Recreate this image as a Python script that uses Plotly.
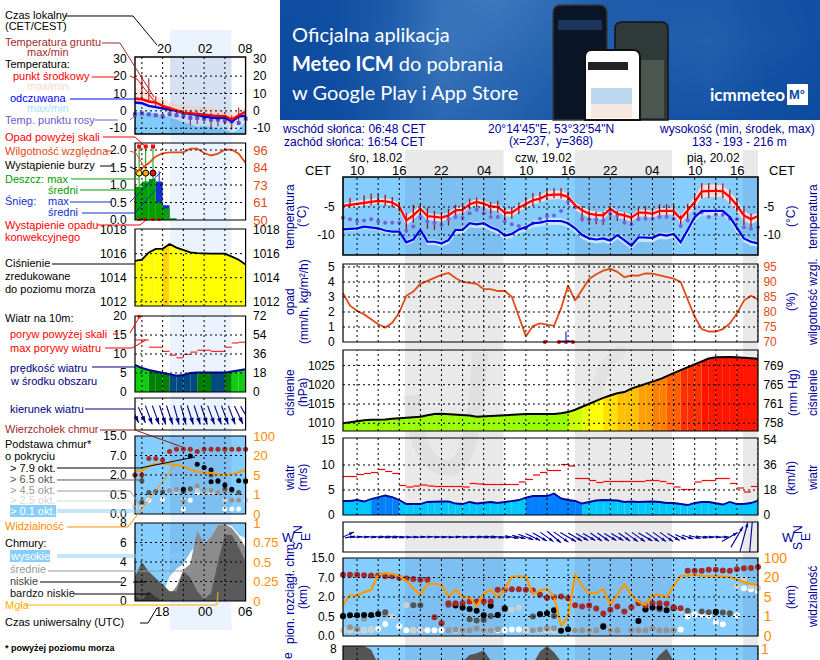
import plotly.graph_objects as go

W, H = 820, 660
# ---------- right-hand meteogram data (hourly, 08 CET 18.02 -> 19 CET 20.02) ----------
hours_r = list(range(-2, 58))
t_mid = [-4.8,-4.6,-4.4,-4.2,-4.0,-3.9,-4.0,-4.2,-4.9,-7.4,-6.5,-5.3,-6.6,-6.7,-6.9,-6.5,-5.6,-5.5,-4.5,-4.1,
         -4.4,-4.9,-5.0,-6.0,-6.0,-5.1,-4.4,-3.8,-3.5,-2.9,-2.8,-2.8,-3.2,-4.7,-5.6,-6.2,-6.4,-6.5,-5.3,-6.2,
         -6.5,-6.9,-6.0,-6.0,-6.2,-5.7,-5.7,-5.7,-7.1,-5.6,-4.1,-2.2,-2.1,-2.1,-2.2,-3.2,-4.7,-6.5,-7.2,-6.6]
t_feel = [-9.0,-8.9,-8.8,-8.5,-8.7,-8.8,-9.2,-9.4,-9.4,-11.3,-10.8,-9.1,-11.2,-11.2,-11.5,-10.9,-9.1,-9.1,-7.9,-8.1,
          -7.9,-8.6,-9.1,-10.1,-9.8,-9.0,-8.6,-7.9,-7.8,-7.5,-7.5,-7.5,-7.9,-8.8,-10.0,-10.6,-10.8,-10.6,-11.0,-10.0,
          -10.9,-11.9,-10.4,-10.4,-10.5,-9.9,-10.1,-9.8,-11.3,-9.1,-6.8,-5.7,-5.7,-5.8,-5.7,-6.8,-8.8,-10.6,-11.2,-11.5]
t_dew = [-6.9,-7.2,-7.5,-7.4,-7.2,-7.6,-7.8,-7.8,-7.8,-9.2,-8.5,-6.8,-7.6,-7.8,-8.2,-7.1,-6.8,-6.9,-6.1,-5.5,
         -6.1,-6.8,-6.8,-7.6,-8.1,-8.4,-8.8,-7.9,-7.1,-6.6,-6.5,-5.7,-4.0,-5.1,-7.2,-7.2,-7.2,-7.4,-6.1,-6.5,
         -7.8,-8.1,-7.2,-7.1,-7.1,-6.8,-6.8,-7.1,-8.4,-7.4,-6.2,-6.0,-6.8,-6.4,-6.4,-7.1,-7.2,-8.6,-8.9,-8.6]
red_up = [.4,.5,.5,.5,.5,.5,.5,.5,.5,.9,.8,.6,.5,.5,.5,.5,.5,.5,.5,.5,.5,.5,.5,.5,.5,.5,.5,.6,.6,.7,
          .7,.7,.6,.5,.6,.6,.6,.6,.5,.5,.5,.5,.5,.5,.5,.5,.5,.5,.6,.7,.9,1.0,1.1,1.1,1.0,1.0,.9,.8,.7,.6]
red_dn = [.5,.5,.5,.5,.5,.5,.5,.5,.6,.8,.8,.7,.7,.7,.7,.6,.6,.6,.6,.6,.6,.7,.7,.7,.7,.7,.7,.7,.7,.8,
          .8,.8,.8,.8,.7,.7,.7,.7,.7,.7,.7,.7,.7,.7,.7,.7,.7,.7,.8,.9,1.0,1.1,1.1,1.1,1.1,1.1,1.1,1.0,.9,.8]
blu_up = [.3,.3,.3,.3,.3,.3,.3,.3,.3,.4,.4,.4,.4,.4,.4,.4,.4,.4,.4,.4,.4,.4,.4,.4,.4,.4,.4,.5,.5,.5,
          .5,.5,.5,.4,.4,.4,.4,.4,.4,.4,.4,.4,.4,.4,.4,.4,.4,.4,.4,.5,.5,.4,.4,.4,.4,.4,.4,.4,.4,.4]
blu_dn = [.4,.4,.4,.4,.4,.4,.4,.4,.4,.5,.5,.6,.6,.6,.6,.7,.7,.7,.7,.7,.7,.7,.7,.7,.7,.7,.7,.7,.7,.7,
          .7,.7,.7,.7,.7,.7,.7,.7,.7,.7,.7,.7,.8,.8,.8,.8,.7,.7,.7,.8,.8,.8,.8,.8,.8,.8,.8,.7,.7,.6]
ground_up = [0,1.2,0,1.3,1.4,1.2,1.2,1.0,.8,1.3,1.9,.9,1.5,1.0,1.0,1.2,1.0,1.2,1.0,.8,1.0,.8,1.1,.9,1.0,.9,1.2,1.3,1.2,1.2,
             1.2,1.2,1.0,.3,.8,.6,.6,.6,.5,.5,.5,.6,.9,1.2,.9,1.2,1.2,1.2,.6,1.2,1.4,1.5,1.4,1.5,1.4,1.3,1.2,1.3,1.0,.9]
ground_dn = [0,.5,0,.7,.7,.7,.8,.9,.9,2.2,1.3,1.2,2.3,2.4,1.8,1.8,1.4,1.0,.9,1.0,1.4,1.4,1.0,1.3,1.1,1.2,1.2,1.0,.7,.8,
             .6,.7,.7,.6,2.0,1.8,1.7,1.7,2.0,1.3,1.5,1.3,1.0,1.1,1.0,.9,1.1,.9,1.5,1.8,1.3,1.3,1.3,1.3,1.2,1.2,1.2,1.7,1.8,1.0]
humidity_r = [86.3,82.1,80.4,79.2,77.6,75.9,74.8,76.4,79.8,85.4,86.8,89.4,90.4,91.3,92.4,93.0,91.3,90.0,89.6,89.4,
              87.6,87.6,87.0,87.0,85.1,78.4,71.9,75.3,76.2,75.8,75.4,81.2,88.8,83.8,87.4,91.0,92.6,93.8,94.4,93.4,
              91.6,92.2,92.1,92.9,92.8,92.2,91.5,91.1,90.0,84.0,78.4,74.3,73.5,73.5,74.3,76.2,79.5,83.8,85.4,84.2]
conv_hours_r = [26.7, 28.7, 29.7, 30.7]
snow_spike_x = [29.7]
snow_spike_y = [0.7]
pressure_r = [1010.0,1010.3,1010.6,1010.8,1010.9,1010.9,1011.0,1011.2,1011.3,1011.4,1011.5,1011.7,1012.1,1012.4,1012.5,1012.4,1012.3,1012.2,1012.0,1011.7,
              1011.8,1012.0,1012.1,1012.2,1012.2,1012.3,1012.4,1012.4,1012.4,1012.4,1012.4,1012.6,1012.9,1013.5,1014.3,1015.1,1016.0,1016.6,1017.2,1017.8,
              1018.1,1019.0,1019.6,1020.1,1020.8,1021.4,1022.3,1023.0,1023.8,1024.6,1025.4,1026.2,1026.8,1027.1,1027.2,1027.2,1027.1,1027.0,1026.8,1026.7]
wind_r = [2.8,2.8,3.0,2.7,3.2,3.6,3.9,3.6,3.0,2.2,2.2,2.2,2.6,2.7,2.7,2.7,2.3,2.2,2.6,2.3,
          2.4,2.6,2.4,2.6,2.8,3.0,3.5,3.8,3.8,3.8,4.3,3.3,3.0,2.8,2.3,2.6,2.9,3.0,3.0,2.9,
          2.6,2.7,2.6,2.7,2.7,2.6,2.4,2.4,2.2,2.0,2.4,2.6,2.6,2.4,2.1,2.6,2.2,2.2,2.4,2.9]
wind_strong_r = [4,5,6,7,26,27,28,29,30,31,32,33]
gust_r = [7.7,7.7,8.1,8.3,8.5,9.1,8.7,8.3,5.9,5.6,5.8,6.0,5.8,5.7,5.7,5.7,5.7,5.6,6.3,6.2,
          6.1,6.1,6.1,6.1,6.1,6.6,7.1,8.0,8.5,8.9,8.9,10.1,9.8,7.3,7.3,6.9,6.5,6.7,6.7,6.7,
          6.7,6.7,6.7,6.9,6.9,6.7,6.3,5.6,5.1,5.1,6.6,6.9,6.9,7.3,7.3,6.3,5.4,4.6,5.7]
dir_r = [-25,-10,-5,0,5,8,10,10,10,5,0,-5,-3,5,5,5,0,8,5,8,10,10,8,5,10,15,20,25,30,35,
         40,35,30,30,30,30,35,35,30,30,35,35,35,30,35,35,35,30,25,20,15,10,8,5,0,-30,-60,-75,-85,-90]
dirlen_r = [24,10,10,10,10,10,10,10,10,10,10,10,10,10,10,10,10,10,10,10,10,10,12,12,14,14,16,16,16,16,
            18,18,18,16,14,14,14,14,14,14,14,16,16,16,16,16,16,14,12,12,12,12,10,10,12,18,24,30,32,34]
vis_r = [1.60,2.11,2.06,2.25,2.37,3.14,3.23,3.18,3.09,2.83,2.45,2.11,2.68,2.68,2.63,2.03,2.37,1.99,1.99,1.51,
         2.16,2.37,1.99,2.37,3.04,3.06,3.04,2.16,2.33,2.44,2.03,0.53,1.00,3.18,2.54,2.20,2.20,2.40,1.60,2.11,
         2.66,2.11,1.77,1.60,2.11,2.11,1.99,2.54,3.09,3.09,3.14,3.09,3.06,3.06,3.04,3.04,2.88,2.75,2.66,2.63]
top_k = [0,1,2,3,4,5,6,7,8,9,10,11,12,13,14,15,16,17,18,19,20,21,22,23,24,25,26,27,28,29,30,31,32,33,34,35,36,37,38,39,40,41,42,43,44,45,46,47,48,49,50,51,52,53,54,55,56,57,58,59]
top_p = [3.14,3.14,3.14,3.12,3.10,3.10,3.06,3.06,2.99,2.95,2.92,2.88,2.88,0.96,0.65,1.68,1.68,1.68,1.77,1.77,1.77,1.77,2.37,2.37,2.40,2.40,2.37,2.33,2.11,1.96,
         1.99,2.03,1.94,1.58,1.51,1.56,1.41,1.15,1.34,1.51,1.25,1.48,1.68,1.56,1.68,1.68,1.65,1.46,1.42,3.35,3.35,3.35,3.40,3.40,3.36,3.35,3.42,3.47,3.49,3.54]
black_k = [0,1,2,3,4,5,16,17,18,19,20,21,22,23,28,29,30,31,32,37,42,43,44,45,46,47,53]
black_p = [1.03,1.06,1.06,1.08,1.08,1.13,1.56,1.46,1.39,1.30,1.06,1.55,1.08,1.42,1.12,1.17,1.32,.27,.34,.48,.77,1.37,1.46,1.46,1.32,1.42,1.24]
dgray_k = [0,6,10,11,15,18,19,20,21,22,23,27,28,30,37,43,45,47,49,51,52,53,54,55]
dgray_p = [1.0,1.22,1.58,1.58,1.6,.86,.79,.82,1.03,1.08,1.37,1.0,1.13,1.03,.53,1.34,1.37,1.46,1.29,1.25,1.22,1.2,1.2,1.17]
gray_k = [1,2,3,6,15,16,17,18,19,20,21,22,27,28,29,30,33,34,35,36,37,38,39,41,42,43,44,45,46,47]
gray_p = [.45,.34,.89,1.1,.3,.32,.3,.3,.38,.3,.3,.35,.3,.33,.38,.4,.3,.3,.3,.3,.5,.3,.3,.3,.3,.3,.4,.3,.3,.3]
lgray_k = [0,1,2,3,4,7,9,10,11,24,25,26,27,28,29,30,48,56,57,58,59]
lgray_p = [.3,.3,.3,.3,.33,1.0,1.58,.3,.3,1.35,1.45,.3,.3,.3,.3,.3,1.3,2.55,2.9,2.55,2.45]
white_k = [0,1,2,3,4,5,6,8,9,10,11,12,13,14,16,17,20,21,22,23,24,25,26,27,28,29,30,33,35,38,48,49,50,51,52,53,54,56,57,58,59]
white_p = [.3,.3,.3,.3,.33,.37,.62,.5,.3,.3,.3,.3,.3,.3,.3,.3,.3,.3,.3,.3,.33,.33,.3,.3,.3,.3,.3,.3,.3,.3,.33,1.0,1.1,1.1,1.05,.7,.6,1.05,2.45,2.4,2.3]
cloud_r = [8,8,8,8,7.6,6,5,5,5,5,5,5,5,5,5,5,5,6.3,7,7.2,7.5,6.4,5,5,5,5,5,6,7.4,8,7.3,6.3,5,5,5,5,5,5,5,5,5,5,5,5,6,7,7.7,6.3,5,5,5,5,5,5,5,5,5,5,5,5]

# ---------- left-hand meteogram data (hourly, UTC hours relative to 18 UTC) ----------
hours_l = list(range(-4, 13))
t_mid_l = [7.1,6.7,5.4,4.8,2.9,1.5,0,-1,-1.3,-1.7,-2.3,-2.5,-3,-2.9,-5,-2.5,-0.5]
t_feel_l = [4.8,4.4,2.9,2.1,1.5,0.6,0,-1.3,-1.7,-2.3,-3.3,-3.7,-4.2,-3.8,-6.2,-3.3,-2.7]
t_hi_l = [13.5,12,10,9,7,5,4,3.5,3,3,2,2,0.5,0,-1,0.5,2]
t_lo_l = [-0.4,-0.8,-1,-1.3,-2.3,-3.7,-5.2,-6.2,-7.5,-9,-8.7,-9,-10,-10.6,-12.3,-10.4,-5.6]
t_dew_l = [-2,-1.5,-2,-2.5,-3,-2,-2.5,-3,-4,-4,-4.5,-5,-5,-5.5,-6,-7,-4.5]
ground_up_l = [0,14,13.4,3.5,3.4,1.0,1.0,1.5,1.6,1.5,1.5,1.4,1.7,0.6,2.5,4.5,0]
ground_dn_l = [0,0,0,2,2.5,3,3.5,3.5,7,6,4,8,6,5,6,5,0]
humidity_l = [80.7,84,87.4,91.8,93.8,94.5,94.5,94.5,96.9,96.9,94,92.4,93.6,96.2,96.2,93.6,87.4]
rain_h = [-3.5,-2.5,-1.5,-0.5,0.5,1.5]
rain_mean = [.95,1.1,1.17,.5,.33,.05]
snow_top = [0,0,0,1.1,.42,0]
rain_top_x = [-3.4,-2.45,-1.4]
rain_top_y = [2.1,2.1,2.1]
storm_y = [1.34,1.34,1.34]
storm_col = ['#ffee00','#ffa500','#ee1111']
snow_max_x = [-0.5]
snow_max_y = [1.39]
conv_x = [-3.4,-2.45,-1.4,-0.5]
pressure_l = [1015.4,1015.5,1016.1,1016.4,1016.4,1016.8,1016.5,1016.3,1016.1,1016.05,1016.0,1016.0,1016.0,1016.0,1015.75,1015.5,1015.1]
wind_l = [7.1,6.3,5.8,5.4,5,4.5,4.3,4.5,5,5.1,5.1,5.1,5.1,5.1,5.4,5.8,6]
gust_l = [13.7,13.7,11.8,11.8,10.7,9.7,9,9.9,10.5,11,11,10.7,10.7,11.8,12.9,13.1]
wind_col_l = ['#11cc11','#11cc11','#008000','#008000','#008000','#004a80','#004a80','#004a80','#004a80','#008000','#008000','#004a80','#004a80','#008000','#11cc11','#11cc11']
dir_l = [65,65,70,70,72,72,75,75,72,72,72,70,70,70,70,65,60]
dirlen_l = [17,17,20,20,20,20,20,20,20,20,20,20,20,20,20,20,20]
vis_l = [2.22,2.22,2.46,2.58,2.58,2.58,2.51,2.43,2.29,2.17,2.12,2.12,2.03,2.03,2.03,2.14,2.26]
top_p_l = [2,2,2.85,2.85,2.77,3.2,3.32,3.32,3.32,3.2,3.32,3.32,3.32,3.32,3.32,3.32,3.32]
black_xl = [4,5,6,7,7,8,9,10,11,3,12]
black_pl = [2.97,2.55,2.38,2.26,1.66,1.70,1.49,1.27,1.7,1.27,1.7]
dgray_xl = [-4,-3,-3,-2,-1,0,3,4,7,8,9,10,11,12]
dgray_pl = [2,1.7,.6,1.1,1.15,1.13,1.15,1.3,2.0,1.66,1.3,1.2,1.1,1.66]
gray_xl = [-3,1,2,3,4,5,6,7,8,9,10,11]
gray_pl = [.7,1.2,1.25,.65,1.25,1.45,1.2,1.2,1.1,1.15,.7,.7]
lgray_xl = [-4,-3,1,2,5,6,7,8,9,10,11,12]
lgray_pl = [.4,.35,1.25,1.15,1.2,1.1,1.15,1.1,.7,.7,.7,.7]
white_xl = [-3,-2,0,3,3,4,5,6,7,9,10,11]
white_pl = [.65,.7,.75,.25,.7,.7,1.1,1.15,1.1,.25,.25,.25]
c_high = [0,0,0,0,.7,2.5,3.3,3.8,5,5.9,5.9,6.6,7.8,7.9,7.7,6.8,6.4]
c_mid = [0,0,0,0,.5,.6,1.5,3.2,3.8,7.2,5.9,6.6,7.8,7.9,7.5,6.6,5.5]
c_low = [2.5,4,3,2.4,1.7,1,1,3,2.4,1,.2,.8,4,6.8,6.8,5.5,4]
c_vlow = [.5,0,1,.4,0,0,0,0,0,0,0,0,0,0,0,0,0]
fog_x = [8.1,9.1,10.1,11.2]
fog_y = [1.1,1.1,1.1,1.1]

# ---------- geometry ----------
XR = (343, 758); XL = (135, 245.6)
def px(x): return x / W
def py(y): return 1 - y / H
RIGHT_RNG = [-2, 57]; LEFT_RNG = [-4, 12]
PXH_R = (XR[1] - XR[0]) / 59; PXH_L = (XL[1] - XL[0]) / 16
FONT = "Liberation Sans"
NAVY = "#000099"; ORG = "#ff8c00"; HUMC = "#e34a14"
TL_R = 2; TL_L = 4

fig = go.Figure()
layout = dict(
    width=W, height=H, margin=dict(l=0, r=0, t=0, b=0, pad=0, autoexpand=False), paper_bgcolor="white", plot_bgcolor="rgba(0,0,0,0)",
    showlegend=False, font=dict(family=FONT, size=12, color="black"), barmode="overlay", hovermode=False,
    xaxis=dict(domain=[px(XR[0]), px(XR[1])], range=RIGHT_RNG, visible=False, fixedrange=True),
    xaxis2=dict(domain=[px(XL[0]), px(XL[1])], range=LEFT_RNG, visible=False, fixedrange=True),
    xaxis3=dict(domain=[px(280), px(820)], range=[280, 820], visible=False, fixedrange=True),
)
shapes, annos = [], []
axis_n = [0]
grid_dash = "2px,3px"
CUR_X = ["x"]

def add_y(top, bottom, rng, tickvals=None, ticktext=None, side="left", color="black", xname=None, overlay=None, ticklen=5, fs=12):
    axis_n[0] += 1
    n = axis_n[0]
    key = "yaxis" if n == 1 else f"yaxis{n}"
    xn = xname or CUR_X[0]
    d = dict(domain=[py(bottom), py(top)], range=rng, anchor=xn, side=side, showgrid=False, zeroline=False,
             fixedrange=True, showline=False, tickcolor="rgba(0,0,0,0)", ticklen=ticklen,
             tickfont=dict(family=FONT, size=fs, color=color), ticks="outside")
    if tickvals is not None:
        d["tickmode"] = "array"; d["tickvals"] = tickvals
        d["ticktext"] = ticktext if ticktext else [str(v) for v in tickvals]
    else:
        d["showticklabels"] = False; d["ticks"] = ""
    if overlay:
        d["overlaying"] = overlay
    layout[key] = d
    name = "y" if n == 1 else f"y{n}"
    if overlay:
        # an axis is only drawn when a trace sits on it
        xr = layout["xaxis" if xn == "x" else "xaxis2"]["range"]
        fig.add_trace(go.Scatter(x=[xr[0]], y=[rng[0]], xaxis=xn, yaxis=name, mode="markers",
                                 marker=dict(size=1, opacity=0), hoverinfo="skip"))
    return name

def rect(x0, y0, x1, y1, fill, layer="below", line=None, lw=0):
    shapes.append(dict(type="rect", xref="paper", yref="paper", x0=px(x0), x1=px(x1), y0=py(y0), y1=py(y1),
                       fillcolor=fill, layer=layer, line=dict(color=line or "rgba(0,0,0,0)", width=lw)))

def poly(pts, color, w=1):
    path = "M " + " L ".join(f"{px(a):.5f},{py(b):.5f}" for a, b in pts)
    shapes.append(dict(type="path", xref="paper", yref="paper", path=path, line=dict(color=color, width=w), layer="above"))

def rrect(x0, y0, x1, y1, r, fill, line=None, lw=0, layer="above"):
    pts = (f"M {px(x0+r):.5f},{py(y0):.5f} L {px(x1-r):.5f},{py(y0):.5f} Q {px(x1):.5f},{py(y0):.5f} {px(x1):.5f},{py(y0+r):.5f} "
           f"L {px(x1):.5f},{py(y1):.5f} L {px(x0):.5f},{py(y1):.5f} L {px(x0):.5f},{py(y0+r):.5f} Q {px(x0):.5f},{py(y0):.5f} {px(x0+r):.5f},{py(y0):.5f} Z")
    shapes.append(dict(type="path", xref="paper", yref="paper", path=pts, fillcolor=fill, layer=layer,
                       line=dict(color=line or "rgba(0,0,0,0)", width=lw)))

def txt(x, y, s, color="black", size=12, anchor="left", angle=0, bold=False, family=FONT, bg=None):
    a = dict(xref="paper", yref="paper", x=px(x), y=py(y), text=f"<b>{s}</b>" if bold else s, showarrow=False,
             xanchor=anchor, yanchor="middle", textangle=angle, font=dict(family=family, size=size, color=color), borderpad=0, borderwidth=0)
    if bg:
        a["bgcolor"] = bg
    annos.append(a)

def grid(side, top, bottom, yname, hvals=(), vvals=()):
    xname, (x0, x1) = ("x", XR) if side == "r" else ("x2", XL)
    for v in vvals:
        shapes.append(dict(type="line", xref=xname, yref="paper", x0=v, x1=v, y0=py(bottom), y1=py(top), layer="above",
                           line=dict(color="black", width=1, dash=grid_dash)))
    for v in hvals:
        shapes.append(dict(type="line", xref="paper", yref=yname, x0=px(x0), x1=px(x1), y0=v, y1=v, layer="above",
                           line=dict(color="black", width=1, dash=grid_dash)))

def frame(side, top, bottom, w=1.2):
    x0, x1 = XR if side == "r" else XL
    rect(x0, top, x1, bottom, "rgba(0,0,0,0)", layer="above", line="black", lw=w)

def line(x, y, xa, ya, color, w=2, **kw):
    fig.add_trace(go.Scatter(x=x, y=y, xaxis=xa, yaxis=ya, mode="lines", line=dict(color=color, width=w), hoverinfo="skip", **kw))

def between(x, lo, hi, xa, ya, color):
    fig.add_trace(go.Scatter(x=x, y=lo, xaxis=xa, yaxis=ya, mode="lines", line=dict(width=0), hoverinfo="skip"))
    fig.add_trace(go.Scatter(x=x, y=hi, xaxis=xa, yaxis=ya, mode="lines", line=dict(width=0), fill="tonexty", fillcolor=color, hoverinfo="skip"))

def dots(x, y, xa, ya, color, size=6, symbol="circle"):
    fig.add_trace(go.Scatter(x=x, y=y, xaxis=xa, yaxis=ya, mode="markers", marker=dict(color=color, size=size, symbol=symbol, line=dict(width=0)), hoverinfo="skip", cliponaxis=False))

def segments(x, v, xa, ya, color, w=1.2):
    xs, ys = [], []
    for xi, vi in zip(x, v):
        xs += [xi, xi + 1, None]; ys += [vi, vi, None]
    line(xs, ys, xa, ya, color, w)

def area_steps(x, v, colors, xa, ya):
    for i in range(len(x) - 1):
        fig.add_trace(go.Scatter(x=[x[i], x[i + 1]], y=[v[i], v[i + 1]], xaxis=xa, yaxis=ya, mode="lines", line=dict(width=0),
                                 fill="tozeroy", fillcolor=colors[i], hoverinfo="skip"))

PCOL = [(1009.5, "#66ff00"), (1012.7, "#99ff00"), (1013.5, "#ccff00"), (1014.5, "#eaff00"), (1016.2, "#ffff00"), (1017.5, "#ffe000"),
        (1019, "#ffc000"), (1020.5, "#ffa000"), (1022, "#ff8000"), (1023.5, "#ff6000"), (1025.5, "#ff3000"), (1040, "#ff1500")]
def pcolor(p):
    for lim, c in PCOL:
        if p <= lim:
            return c
    return PCOL[-1][1]

def arrows(hours, rots, lens, xa, ya, pxh, color=NAVY, center_px=0, hs=6):
    import math
    xs, ys, hx, hy, ang = [], [], [], [], []
    for h, r, l in zip(hours, rots, lens):
        c, s = math.cos(math.radians(r)), math.sin(math.radians(r))
        xs += [h - l / 2 * c / pxh, h + l / 2 * c / pxh, None]
        ys += [center_px + l / 2 * s, center_px - l / 2 * s, None]
        hx.append(h + l / 2 * c / pxh); hy.append(center_px - l / 2 * s); ang.append(90 + r)
    line(xs, ys, xa, ya, color, 1.1, cliponaxis=False)
    fig.add_trace(go.Scatter(x=hx, y=hy, xaxis=xa, yaxis=ya, mode="markers", cliponaxis=False, hoverinfo="skip",
                             marker=dict(symbol="arrow", size=hs, angle=ang, color=color, line=dict(width=0))))

# ---------- banner ----------
yb = add_y(0, 120, [120, 0], xname="x3")
z_banner = [[.05,.10,.30,.75,.85,.65,.35,.30,.30,.15,.10],
            [.02,.08,.35,.80,.70,.55,.35,.35,.40,.20,.10],
            [.02,.05,.30,.70,.55,.40,.30,.25,.30,.12,.05],
            [.00,.03,.25,.55,.45,.30,.20,.15,.15,.05,.02]]
fig.add_trace(go.Heatmap(z=z_banner, x=[280,334,388,442,496,550,604,658,712,766,820], y=[0,40,80,120], xaxis="x3", yaxis=yb, zsmooth="best",
                         zmin=0, zmax=1, showscale=False, hoverinfo="skip",
                         colorscale=[[0, "#0c4a9f"], [1, "#4480c2"]]))
rrect(553, 5, 607, 120, 8, "#0a1528", "#3a3a3a", 1.5)
rrect(615, 22, 668, 120, 7, "#2f3a38", "#151515", 1.5)
rrect(622, 60, 664, 118, 1, "#4c5650")
rrect(585, 50, 640, 120, 7, "#ffffff", "#111111", 2)
rrect(588, 62, 628, 70, 1, "#222222")
rrect(591, 88, 632, 104, 1, "#bcd8ee")
rrect(591, 104, 632, 118, 1, "#f4e8e0")
rrect(558, 20, 602, 30, 1, "#1d3558")
rrect(787, 84, 808, 105, 1, "#ffffff")
txt(292, 34, "Oficjalna aplikacja", "white", 20, family="Lato")
txt(292, 63, "<b>Meteo ICM</b> do pobrania", "white", 20, family="Lato")
txt(292, 92, "w Google Play i App Store", "white", 20, family="Lato")
txt(710, 94, "<b>icmmeteo</b>", "white", 17, family="Lato")
txt(797, 95, "<b>M°</b>", "#0c4a9f", 13, "center")

# ---------- backgrounds ----------
for a, b in [(405, 503.5), (575, 672), (743, 758)]:
    rect(a, 150, b, 660, "#e9e9e9")
rect(170, 30, 231.5, 630, "#ebf3ff")
shapes.append(dict(type="path", xref="paper", yref="paper", layer="below", line=dict(color="#e0e0e0", width=16),
                   path=f"M {px(412):.5f},{py(395):.5f} Q {px(417):.5f},{py(470):.5f} {px(450):.5f},{py(468):.5f} Q {px(475):.5f},{py(465):.5f} {px(480):.5f},{py(352):.5f}"))
shapes.append(dict(type="path", xref="paper", yref="paper", layer="below", line=dict(color="#e2e2e2", width=12),
                   path=f"M {px(590):.5f},{py(430):.5f} Q {px(600):.5f},{py(350):.5f} {px(625):.5f},{py(352):.5f}"))

R_PANELS = dict(temp=(177, 255), rain=(264, 342), pres=(350, 431), wind=(438, 515), dirn=(522, 552), cld=(558, 636), clouds=(646, 660))
L_PANELS = dict(temp=(57, 134), rain=(143, 220), pres=(229, 306), wind=(316, 392), dirn=(398, 430), cld=(436, 514), clouds=(523, 601))
for side, P, xr in (("r", R_PANELS, XR), ("l", L_PANELS, XL)):
    for key in ("cld", "clouds") + (("temp",) if side == "r" else ()):
        t, b = P[key]
        rect(xr[0], t, xr[1], b, "#85ceff")
        bands = [(405, 503.5), (575, 672), (743, 758)] if side == "r" else [(170, 231.5)]
        for a0, a1 in bands:
            rect(a0, t, a1, b, "#7dbff0")

v_r = list(range(0, 58, 3)); v_l = [-3, 0, 3, 6, 9]

# ---------- right panels ----------
t, b = R_PANELS["temp"]
y = add_y(t, b, [-13.57, 0.36], [-5, -10], ["-5", "-10"])
yo = add_y(t, b, [-13.57, 0.36], [-5, -10], ["-5", "-10"], side="right", overlay=y, ticklen=TL_R)
between(hours_r, [m - d for m, d in zip(t_feel, blu_dn)], [m + u for m, u in zip(t_feel, blu_up)], "x", y, "#c6e8ff")
between(hours_r, [m - d for m, d in zip(t_mid, red_dn)], [m + u for m, u in zip(t_mid, red_up)], "x", y, "#fbdcdc")
fig.add_trace(go.Scatter(x=hours_r, y=t_mid, xaxis="x", yaxis=y, mode="markers", marker=dict(size=0.1, color="#a01010"), hoverinfo="skip",
                         error_y=dict(type="data", array=ground_up, arrayminus=ground_dn, symmetric=False, width=0, color="#a01010", thickness=1.3)))
dots(hours_r, t_dew, "x", y, "#7a60d8", 4)
line(hours_r, t_feel, "x", y, "#0000ee", 2.2)
line(hours_r, t_mid, "x", y, "#ff0000", 2.2)
grid("r", t, b, y, [-5, -10], v_r); frame("r", t, b, 1.6)

t, b = R_PANELS["rain"]
y = add_y(t, b, [0, 5.2], [0, 1, 2, 3, 4, 5])
yo = add_y(t, b, [70, 96], [70, 75, 80, 85, 90, 95], side="right", color=HUMC, overlay=y, ticklen=TL_R)
line(hours_r, humidity_r, "x", yo, HUMC, 1.8)
fig.add_trace(go.Scatter(x=snow_spike_x + snow_spike_x, y=[0] + snow_spike_y, xaxis="x", yaxis=y, mode="lines", line=dict(color="#0000cc", width=1), hoverinfo="skip"))
fig.add_trace(go.Bar(x=snow_spike_x, y=[0.09], width=[2], xaxis="x", yaxis=y, marker=dict(color="#0000cc", line=dict(width=0)), hoverinfo="skip"))
dots(conv_hours_r, [0, 0, 0, 0], "x", y, "#e01010", 4)
grid("r", t, b, y, [1, 2, 3, 4, 5], v_r); frame("r", t, b)

t, b = R_PANELS["pres"]
y = add_y(t, b, [1008, 1029], [1010, 1015, 1020, 1025], fs=12)
yo = add_y(t, b, [1008, 1029], [1010, 1015, 1020, 1025], ["758", "761", "765", "769"], side="right", overlay=y, ticklen=TL_R)
area_steps(hours_r, pressure_r, [pcolor(p) for p in pressure_r], "x", y)
line(hours_r, pressure_r, "x", y, "black", 2)
grid("r", t, b, y, [1010, 1015, 1020, 1025], v_r); frame("r", t, b)

t, b = R_PANELS["wind"]
y = add_y(t, b, [0, 15.4], [0, 5, 10, 15])
yo = add_y(t, b, [0, 15.4], [0, 5, 10, 15], ["0", "18", "36", "54"], side="right", overlay=y, ticklen=TL_R)
area_steps(hours_r, wind_r, ["#0080ff" if i in wind_strong_r else "#00c8ff" for i in range(60)], "x", y)
line(hours_r, wind_r, "x", y, "#000099", 1.8)
segments(hours_r[:-1], gust_r, "x", y, "#ff0000")
grid("r", t, b, y, [5, 10], v_r); frame("r", t, b)

t, b = R_PANELS["dirn"]
y = add_y(t, b, [-15, 15])
arrows(hours_r, dir_r, dirlen_r, "x", y, PXH_R, hs=5)
frame("r", t, b)

t, b = R_PANELS["cld"]
y = add_y(t, b, [0, 4], [0, 1, 2, 3, 4], ["0.0", "0.5", "2.0", "7.0", "15.0"])
yo = add_y(t, b, [0, 4], [0, 1, 2, 3, 4], ["0", "1", "5", "20", "100"], side="right", color=ORG, overlay=y, ticklen=TL_R, fs=14)
for ks, ps, col in [(white_k, white_p, "white"), (lgray_k, lgray_p, "#cfcfcf"), (gray_k, gray_p, "#949494"),
                    (dgray_k, dgray_p, "#555555"), (black_k, black_p, "black"), (top_k, top_p, "#a52a2a")]:
    dots([hours_r[k] for k in ks], ps, "x", y, col, 6)
line(hours_r, vis_r, "x", y, "#ff9900", 2.2)
grid("r", t, b, y, [1, 2, 3], v_r); frame("r", t, b)

t, b = R_PANELS["clouds"]
y = add_y(t, b, [6.46, 8])
fig.add_trace(go.Scatter(x=hours_r, y=cloud_r, xaxis="x", yaxis=y, mode="lines", line=dict(width=0), fill="tozeroy", fillcolor="#555555", hoverinfo="skip"))
grid("r", t, b, y, [], v_r); frame("r", t, 662)
txt(337, 649, "8", "black", 12, "right")
txt(765, 649, "1", ORG, 14, "center")

# ---------- left panels ----------
CUR_X[0] = "x2"
t, b = L_PANELS["temp"]
TR = [-13.3, 31]
y = add_y(t, b, TR, [30, 20, 10, 0, -10])
yo = add_y(t, b, TR, [30, 20, 10, 0, -10], side="right", overlay=y, ticklen=TL_L)
floor_l = [-14] * 17
between(hours_l, floor_l, t_lo_l, "x2", y, "#80ccfc")
between(hours_l, t_lo_l, t_feel_l, "x2", y, "#d4ecff")
between(hours_l, t_feel_l, t_hi_l, "x2", y, "#fde4d8")
fig.add_trace(go.Scatter(x=hours_l, y=t_mid_l, xaxis="x2", yaxis=y, mode="markers", marker=dict(size=0.1, color="#a01010"), hoverinfo="skip",
                         error_y=dict(type="data", array=ground_up_l, arrayminus=ground_dn_l, symmetric=False, width=0, color="#a01010", thickness=1)))
dots(hours_l, t_dew_l, "x2", y, "#6a50d0", 4, "square")
line(hours_l, t_feel_l, "x2", y, "#0000ee", 2.4)
line(hours_l, t_mid_l, "x2", y, "#ff0000", 2.4)
rect(170, t, 231.5, b, "rgba(30,60,140,0.10)", layer="above")
grid("l", t, b, y, [20, 10, 0, -10], v_l); frame("l", t, b, 1.4)

t, b = L_PANELS["rain"]
y = add_y(t, b, [0, 2.2], [0, .5, 1, 1.5, 2], ["0.0", "0.5", "1.0", "1.5", "2.0"])
yo = add_y(t, b, [50, 100.6], [50, 61.5, 73, 84.5, 96], ["50", "61", "73", "84", "96"], side="right", color=HUMC, overlay=y, ticklen=TL_L, fs=13)
fig.add_trace(go.Bar(x=rain_h, y=snow_top, width=1, xaxis="x2", yaxis=y, marker=dict(color="#1030d0", line=dict(width=0)), hoverinfo="skip"))
fig.add_trace(go.Bar(x=rain_h, y=rain_mean, width=1, xaxis="x2", yaxis=y, marker=dict(color="#00a000", line=dict(width=0)), hoverinfo="skip"))
for xv, yv in zip(rain_top_x, rain_top_y):
    line([xv, xv], [0.9, yv], "x2", y, "#00a000", 1)
line(snow_max_x + snow_max_x, [1.1] + snow_max_y, "x2", y, "#1030d0", 1)
line(hours_l, humidity_l, "x2", yo, HUMC, 1.8)
dots(rain_top_x, rain_top_y, "x2", y, "#ff0000", 4, "square")
fig.add_trace(go.Scatter(x=rain_top_x, y=storm_y, xaxis="x2", yaxis=y, mode="markers", hoverinfo="skip",
                         marker=dict(color=storm_col, size=6, line=dict(color="black", width=1))))
dots(conv_x, [0.02] * 4, "x2", y, "#ff0000", 3, "square")
grid("l", t, b, y, [.5, 1, 1.5, 2], v_l); frame("l", t, b)

t, b = L_PANELS["pres"]
PL = [1011.65, 1018.05]
y = add_y(t, b, PL, [1012, 1014, 1016, 1018])
yo = add_y(t, b, PL, [1012, 1014, 1016, 1018], side="right", overlay=y, ticklen=TL_L)
area_steps(hours_l, pressure_l, ["#ffd400" if p > 1016.39 and i in (4,) else "#ffff00" for i, p in enumerate(pressure_l)], "x2", y)
line(hours_l, pressure_l, "x2", y, "black", 1.8)
grid("l", t, b, y, [1012, 1014, 1016], v_l); frame("l", t, b)

t, b = L_PANELS["wind"]
y = add_y(t, b, [0, 20], [0, 5, 10, 15, 20])
yo = add_y(t, b, [0, 20], [0, 5, 10, 15, 20], ["0", "18", "36", "54", "72"], side="right", overlay=y, ticklen=TL_L)
area_steps(hours_l, wind_l, wind_col_l, "x2", y)
line(hours_l, wind_l, "x2", y, "#000099", 2)
segments(hours_l[:-1], gust_l, "x2", y, "#ff0000", 1)
dots([-3.4], [19.8], "x2", y, "#ff0000", 3, "square")
grid("l", t, b, y, [5, 10, 15], v_l); frame("l", t, b)

t, b = L_PANELS["dirn"]
y = add_y(t, b, [-16, 16])
arrows(hours_l, dir_l, dirlen_l, "x2", y, PXH_L, "#000080", center_px=-1, hs=7)
grid("l", t, b, y, [], v_l); frame("l", t, b)

t, b = L_PANELS["cld"]
y = add_y(t, b, [0, 4], [0, 1, 2, 3, 4], ["0.0", "0.5", "2.0", "7.0", "15.0"])
yo = add_y(t, b, [0, 4], [0, 1, 2, 3, 4], ["0", "1", "5", "20", "100"], side="right", color=ORG, overlay=y, ticklen=TL_L, fs=13)
for xs_, ps, col in [(white_xl, white_pl, "white"), (lgray_xl, lgray_pl, "#cfcfcf"), (gray_xl, gray_pl, "#949494"),
                     (dgray_xl, dgray_pl, "#555555"), (black_xl, black_pl, "black"), (hours_l, top_p_l, "#a52a2a")]:
    dots(xs_, ps, "x2", y, col, 5)
line(hours_l, vis_l, "x2", y, "#ff9900", 2)
grid("l", t, b, y, [1, 2, 3], v_l); frame("l", t, b)

t, b = L_PANELS["clouds"]
y = add_y(t, b, [0, 8], [0, 2, 4, 6, 8])
yo = add_y(t, b, [0, 8], [0, 2, 4, 6, 8], ["0", "0.25", "0.5", "0.75", "1"], side="right", color=ORG, overlay=y, ticklen=TL_L, fs=13)
for vals, col in [(c_high, "white"), (c_mid, "#8c8c8c"), (c_low, "#5a5a5a"), (c_vlow, "#3a3a3a")]:
    fig.add_trace(go.Scatter(x=hours_l, y=vals, xaxis="x2", yaxis=y, mode="lines", line=dict(width=0), fill="tozeroy", fillcolor=col, hoverinfo="skip"))
fig.add_trace(go.Bar(x=fog_x, y=fog_y, width=0.45, xaxis="x2", yaxis=y, marker=dict(color="#ffb000", line=dict(width=0)), hoverinfo="skip"))
grid("l", t, b, y, [2, 4, 6], v_l); frame("l", t, b)

# ---------- time labels ----------
for xv, s in zip([164, 204.5, 245], ["20", "02", "08"]):
    txt(xv, 48, s, "black", 13, "center")
for xv, s in zip([162, 204.5, 245], ["18", "00", "06"]):
    txt(xv, 611, s, "black", 13, "center")
for hv, s in zip([0, 6, 12, 18, 24, 30, 36, 42, 48, 54], ["10", "16", "22", "04", "10", "16", "22", "04", "10", "16"]):
    txt(343 + (hv + 2) * PXH_R, 171, s, "black", 13, "center")
txt(318, 171, "CET", "black", 13, "center")
txt(782, 171, "CET", "black", 13, "center")
txt(349, 158, "śro, 18.02", "black", 12)
txt(515, 158, "czw, 19.02", "black", 12)
txt(687, 158, "pią, 20.02", "black", 12)
# header
txt(354, 129, "wschód słońca: 06:48 CET", NAVY, 12, "center")
txt(354, 142, "zachód słońca: 16:54 CET", NAVY, 12, "center")
txt(551, 129, "20°14'45\"E, 53°32'54\"N", NAVY, 12, "center")
txt(551, 141, "(x=237,  y=368)", NAVY, 12, "center")
txt(737, 129, "wysokość (min, środek, max)", NAVY, 12, "center")
txt(739, 142, "133 - 193 - 216 m", NAVY, 12, "center")
# side titles, right meteogram
for x_, y_, s in [(290, 217, "temperatura"), (302, 217, "(°C)"), (290, 302, "opad"), (304, 302, "(mm/h, kg/m²/h)"),
                  (290, 393, "ciśnienie"), (303, 393, "(hPa)"), (290, 478, "wiatr"), (303, 478, "(m/s)"),
                  (290, 593, "pion. rozciągł. chm."), (303, 597, "(km)"), (288, 656, "e"),
                  (791, 217, "(°C)"), (813, 217, "temperatura"), (791, 302, "(%)"), (813, 302, "wilgotność wzgl."),
                  (793, 393, "(mm Hg)"), (813, 393, "ciśnienie"), (791, 478, "(km/h)"), (813, 478, "wiatr"),
                  (791, 597, "(km)"), (813, 597, "widzialność")]:
    txt(x_, y_, s, NAVY, 12, "center", -90)
for dx in (0, 500):
    txt(288 + dx, 537, "W", NAVY, 13, "center")
    txt(298 + dx, 530, "N", NAVY, 12, "center", -90)
    txt(298 + dx, 546, "S", NAVY, 12, "center", -90)
    txt(306 + dx, 537, "E", NAVY, 12, "center", -90)

# ---------- left labels ----------
BR = "#a52a2a"; RED = "#ff0000"; BLU = "#0000ff"; GRN = "#00a000"
LS = 11
labels = [
    (5, 15, "Czas lokalny", "black"), (5, 26, "(CET/CEST)", "black"), (5, 42, "Temperatura gruntu", BR), (27, 52, "max/min", BR),
    (5, 64, "Temperatura:", "black"), (13, 76, "punkt środkowy", RED), (27, 86, "max/min", "#fbd9c8"), (10, 98, "odczuwana", BLU),
    (27, 108, "max/min", "#a8e0ff"), (5, 120, "Temp. punktu rosy", "#6a5acd"), (5, 137, "Opad powyżej skali", RED),
    (5, 151, "Wilgotność względna", HUMC), (5, 165, "Wystąpienie burzy", "black"), (5, 179, "Deszcz: max", GRN), (48, 190, "średni", GRN),
    (5, 201, "Śnieg:", "#1030d0"), (48, 201, "max", "#1030d0"), (48, 212, "średni", "#1030d0"), (5, 225, "Wystąpienie opadu", RED),
    (5, 237, "konwekcyjnego", RED), (5, 263, "Ciśnienie", "black"), (5, 276, "zredukowane", "black"), (5, 289, "do poziomu morza", "black"),
    (5, 318, "Wiatr na 10m:", "black"), (10, 334, "poryw powyżej skali", RED), (10, 348, "max porywy wiatru", RED),
    (10, 368, "prędkość wiatru", "#000080"), (10, 381, "w środku obszaru", "#000080"), (10, 409, "kierunek wiatru", "#000080"),
    (5, 429, "Wierzchołek chmur", BR), (5, 444, "Podstawa chmur*", "black"), (5, 456, "o pokryciu", "black"),
    (10, 468, "&gt; 7.9 okt.", "black"), (10, 479, "&gt; 6.5 okt.", "#555555"), (10, 490, "&gt; 4.5 okt.", "#999999"), (10, 500, "&gt; 2.5 okt.", "#d8d8d8"),
    (5, 526, "Widzialność", "#ff8c00"), (5, 543, "Chmury:", "black"), (10, 569, "średnie", "#999999"),
    (10, 581, "niskie", "#444444"), (10, 593, "bardzo niskie", "#111111"), (5, 605, "Mgła", "#ffb000"), (5, 622, "Czas uniwersalny (UTC)", "black"),
]
for x_, y_, s, c in labels:
    txt(x_, y_, s, c, LS)
txt(10, 511, "&gt; 0.1 okt.", "white", LS, bg="#87cefa")
txt(10, 556, "wysokie", "white", LS, bg="#87cefa")
txt(5, 648, "* powyżej poziomu morza", "black", 9, bold=True)

leaders = [
    ([(65, 16), (133, 16), (157, 45)], "black"), ([(102, 43), (120, 43), (154, 97)], BR), ([(92, 77), (117, 77)], RED),
    ([(130, 76), (137, 79), (155, 102)], RED), ([(70, 99), (135, 99)], BLU), ([(95, 120), (118, 120)], "#6a5acd"), ([(130, 120), (137, 114)], "#6a5acd"),
    ([(103, 137), (135, 137), (146, 147)], RED), ([(105, 151), (112, 151)], HUMC), ([(130, 151), (136, 153), (146, 170)], HUMC),
    ([(100, 166), (113, 166)], "black"), ([(130, 167), (137, 170)], "black"), ([(71, 179), (139, 179)], GRN), ([(80, 190), (139, 190)], GRN),
    ([(70, 202), (112, 202)], "#1030d0"), ([(130, 202), (161, 172)], "#1030d0"), ([(82, 213), (135, 213), (160, 185)], "#1030d0"),
    ([(97, 225), (140, 225), (146, 220)], RED), ([(52, 264), (135, 264)], "black"), ([(113, 334), (118, 334)], RED), ([(130, 333), (140, 316)], RED),
    ([(105, 348), (132, 348), (146, 340)], RED), ([(92, 367), (135, 367)], "#000080"), ([(85, 409), (135, 409)], "#000080"),
    ([(100, 430), (135, 430), (185, 448)], "#8b1a1a"), ([(57, 468), (140, 468), (195, 457)], "black"), ([(57, 480), (143, 480)], "#555555"),
    ([(57, 491), (130, 491), (140, 505)], "#999999"), ([(57, 501), (130, 501), (138, 510)], "#d8d8d8"), ([(57, 510), (136, 510)], "#87cefa"), ([(57, 512), (136, 512)], "#87cefa"),
    ([(67, 527), (128, 527), (175, 465)], "#ff8c00"), ([(57, 555), (185, 555)], "#87cefa"), ([(57, 557), (185, 557)], "#87cefa"),
    ([(48, 571), (192, 571)], "#999999"), ([(40, 582), (122, 582)], "black"), ([(133, 582), (146, 582)], "black"), ([(74, 594), (150, 594)], "black"),
    ([(25, 605), (217, 605), (218, 592)], "#ffb000"), ([(140, 623), (148, 623), (157, 608)], "black"),
]
for pts, col in leaders:
    poly(pts, col, 1)

layout["shapes"] = shapes
layout["annotations"] = annos
fig.update_layout(**layout)
fig.write_html("out.html", config=dict(displayModeBar=False, staticPlot=True),
               post_script="document.body.style.margin='0';document.body.style.overflow='hidden';")
